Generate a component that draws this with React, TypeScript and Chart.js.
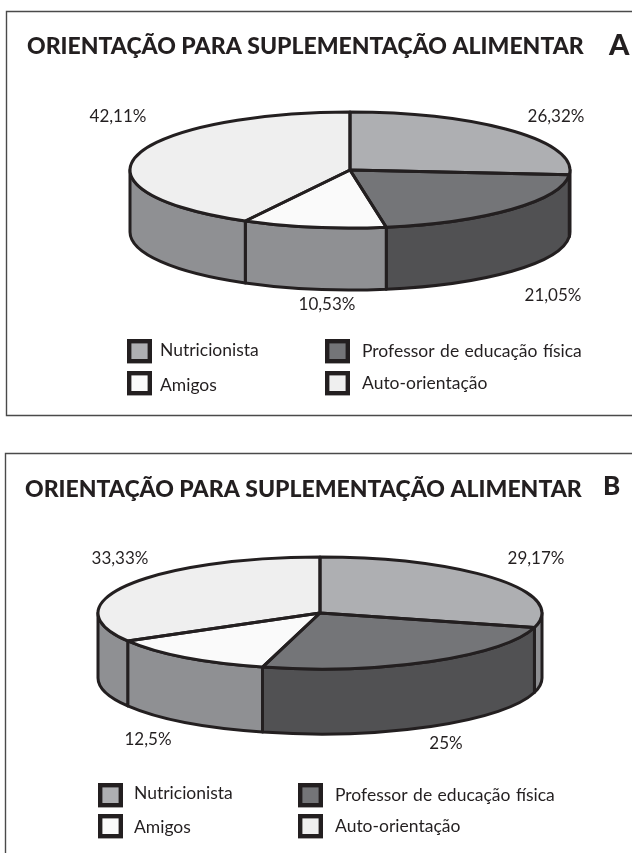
import React, { useEffect, useRef } from "react";
import { Chart, registerables } from "chart.js";

Chart.register(...registerables);

const categories = ["Nutricionista", "Professor de educação física", "Amigos", "Auto-orientação"];
const valuesA = [26.32, 21.05, 10.53, 42.11];
const valuesB = [29.17, 25, 12.5, 33.33];
const topColors = ["#aeafb2", "#747578", "#fafafa", "#efefef"];
const sideColors = ["#8e8f92", "#515153", "#8f9093", "#8f9093"];
const titleText = "ORIENTAÇÃO PARA SUPLEMENTAÇÃO ALIMENTAR";

const INK = "#231f20";
const FONT = "Lato, 'Open Sans', sans-serif";
const W = 632;
const H = 853;

type Layout = {
  letter: string;
  letterSize: number;
  box: { x: number; top: number; bottom: number | null };
  title: { x: number; y: number; w: number };
  letterPos: { x: number; y: number };
  pie: { cx: number; cy: number; rx: number; ry: number; depth: number };
  labelPos: [number, number][];
  legendRows: number[];
  legendCols: number[];
  legendText: number[];
  legendTextY: number[][];
};

const layoutA: Layout = {
  letter: "A",
  letterSize: 29,
  box: { x: 6.5, top: 11.5, bottom: 415.5 },
  title: { x: 27, y: 47, w: 558 },
  letterPos: { x: 609, y: 46 },
  pie: { cx: 350, cy: 170, rx: 220, ry: 58, depth: 62 },
  labelPos: [[556, 117], [553, 296], [327, 305], [118, 117]],
  legendRows: [339, 371],
  legendCols: [127, 325],
  legendText: [160, 362],
  legendTextY: [[350, 351], [385, 383]],
};

const layoutB: Layout = {
  letter: "B",
  letterSize: 26,
  box: { x: 5.5, top: 453.5, bottom: null },
  title: { x: 25, y: 490, w: 558 },
  letterPos: { x: 603, y: 487 },
  pie: { cx: 320, cy: 613, rx: 222, ry: 56, depth: 65 },
  labelPos: [[536, 559], [446, 744], [148, 740], [120, 559]],
  legendRows: [783, 814],
  legendCols: [98, 298],
  legendText: [134, 335],
  legendTextY: [[793, 795], [827, 826]],
};

function fmt(v: number) {
  return String(v).replace(".", ",") + "%";
}

function makePlugin(l: Layout) {
  return {
    id: "pie3d" + l.letter,
    beforeDatasetsDraw(chart: any) {
      const ctx = chart.ctx;
      const { cx, cy, rx, ry, depth } = l.pie;
      const arcs = chart.getDatasetMeta(0).data;
      ctx.save();
      ctx.strokeStyle = INK;
      ctx.lineWidth = 3;
      ctx.lineJoin = "round";
      arcs.forEach((el: any, i: number) => {
        const { startAngle, endAngle } = el.getProps(["startAngle", "endAngle"], true);
        const a0 = Math.max(startAngle, 0);
        const a1 = Math.min(endAngle, Math.PI);
        if (a1 <= a0) return;
        ctx.beginPath();
        ctx.ellipse(cx, cy, rx, ry, 0, a0, a1);
        ctx.ellipse(cx, cy + depth, rx, ry, 0, a1, a0, true);
        ctx.closePath();
        ctx.fillStyle = sideColors[i];
        ctx.fill();
        ctx.stroke();
      });
      ctx.restore();
      const first = arcs[0].getProps(["x", "y", "outerRadius"], true);
      ctx.save();
      ctx.translate(cx, cy);
      ctx.scale(rx / first.outerRadius, ry / first.outerRadius);
      ctx.translate(-first.x, -first.y);
    },
    afterDatasetsDraw(chart: any) {
      const ctx = chart.ctx;
      ctx.restore();
      const { cx, cy, rx, ry } = l.pie;
      const arcs = chart.getDatasetMeta(0).data;
      ctx.save();
      ctx.strokeStyle = INK;
      ctx.lineWidth = 3;
      ctx.lineJoin = "round";
      arcs.forEach((el: any) => {
        const { startAngle, endAngle } = el.getProps(["startAngle", "endAngle"], true);
        ctx.beginPath();
        ctx.moveTo(cx, cy);
        ctx.ellipse(cx, cy, rx, ry, 0, startAngle, endAngle);
        ctx.closePath();
        ctx.stroke();
      });
      ctx.restore();

      // panel frame
      ctx.save();
      ctx.strokeStyle = "#4a4a4a";
      ctx.lineWidth = 1.4;
      ctx.beginPath();
      ctx.moveTo(W + 2, l.box.top);
      ctx.lineTo(l.box.x, l.box.top);
      if (l.box.bottom === null) {
        ctx.lineTo(l.box.x, H + 2);
      } else {
        ctx.lineTo(l.box.x, l.box.bottom);
        ctx.lineTo(W + 2, l.box.bottom);
      }
      ctx.stroke();

      // title + panel letter
      ctx.fillStyle = INK;
      ctx.textBaseline = "middle";
      ctx.textAlign = "left";
      ctx.font = `900 23px ${FONT}`;
      ctx.fillText(titleText, l.title.x, l.title.y, l.title.w);
      ctx.font = `900 ${l.letterSize}px ${FONT}`;
      ctx.fillText(l.letter, l.letterPos.x, l.letterPos.y);

      // slice value labels
      ctx.font = `400 17px ${FONT}`;
      ctx.textAlign = "center";
      const values = chart.data.datasets[0].data as number[];
      values.forEach((v, i) => {
        ctx.fillText(fmt(v), l.labelPos[i][0], l.labelPos[i][1]);
      });

      // legend: row-major, 2x2
      ctx.textAlign = "left";
      ctx.font = `400 17.5px ${FONT}`;
      categories.forEach((name, i) => {
        const r = i < 2 ? 0 : 1;
        const c = i % 2;
        const x = l.legendCols[c];
        const y = l.legendRows[r];
        ctx.fillStyle = topColors[i];
        ctx.fillRect(x + 2, y + 2, 21, 20);
        ctx.strokeStyle = INK;
        ctx.lineWidth = 4.4;
        ctx.strokeRect(x + 2.2, y + 2.2, 20.6, 20);
        ctx.fillStyle = INK;
        (ctx as any).wordSpacing = i === 1 ? "1px" : "0px";
        ctx.fillText(name, l.legendText[c], l.legendTextY[r][c]);
      });
      (ctx as any).wordSpacing = "0px";
      ctx.restore();
    },
  };
}

function Panel({ layout, values }: { layout: Layout; values: number[] }) {
  const ref = useRef<HTMLCanvasElement | null>(null);
  useEffect(() => {
    if (!ref.current) return;
    const chart = new Chart(ref.current, {
      type: "pie",
      data: {
        labels: categories,
        datasets: [
          {
            data: values,
            backgroundColor: topColors,
            borderWidth: 0,
            radius: layout.pie.rx,
            clip: false,
          } as any,
        ],
      },
      options: {
        animation: false,
        responsive: false,
        events: [],
        plugins: { legend: { display: false }, tooltip: { enabled: false }, title: { display: false } },
      },
      plugins: [makePlugin(layout)],
    } as any);
    return () => chart.destroy();
  }, [layout, values]);
  return (
    <canvas
      ref={ref}
      width={W}
      height={H}
      style={{ position: "absolute", left: 0, top: 0, width: W, height: H }}
    />
  );
}

export default function App() {
  return (
    <div style={{ position: "fixed", left: 0, top: 0, width: W, height: H, background: "#fff", overflow: "hidden" }}>
      <Panel layout={layoutA} values={valuesA} />
      <Panel layout={layoutB} values={valuesB} />
    </div>
  );
}
